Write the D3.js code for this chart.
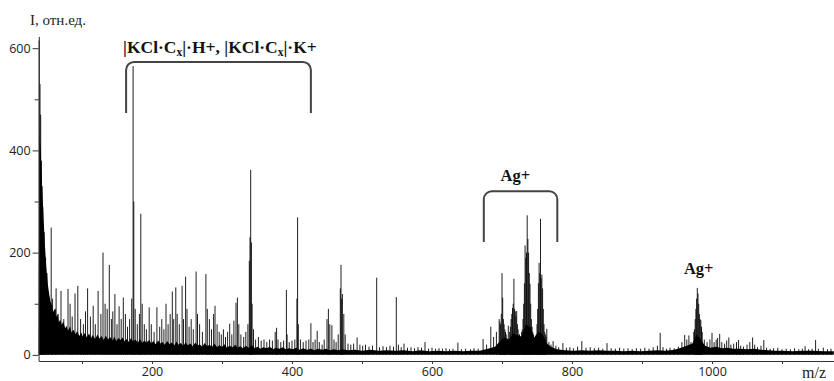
<!DOCTYPE html>
<html>
<head>
<meta charset="utf-8">
<script src="https://cdn.jsdelivr.net/npm/d3@7"></script>
<style>
  body { margin: 0; background: #fff; }
  svg { display: block; }
</style>
</head>
<body>
<div id="chart" style="width:834px;height:381px"></div>
<script>
// dense baseline noise (m/z, intensity)
const envMz = [38, 39, 41, 43, 45, 47, 49, 51, 53, 55, 57, 59, 61, 63, 65, 67, 69, 71, 73, 76, 78, 80, 83, 85, 88, 91, 93, 96, 99, 101, 104, 107, 110, 113, 115, 119, 122, 125, 128, 131, 134, 137, 140, 144, 146, 149, 152, 155, 158, 161, 164, 167, 170, 173, 176, 180, 183, 186, 189, 192, 196, 199, 202, 205, 209, 212, 215, 218, 222, 225, 228, 232, 235, 238, 241, 245, 248, 251, 255, 258, 262, 265, 268, 272, 275, 279, 282, 286, 289, 293, 296, 300, 304, 307, 311, 315, 319, 322, 326, 330, 334, 338, 343, 347, 351, 355, 359, 364, 368, 373, 377, 382, 387, 391, 396, 401, 406, 411, 416, 421, 427, 432, 437, 443, 449, 454, 460, 466, 472, 480, 490, 500, 512, 524, 536, 548, 560, 572, 584, 596, 608, 620, 632, 644, 656, 668, 680, 690, 698, 704, 710, 716, 722, 728, 734, 740, 746, 752, 758, 764, 770, 778, 790, 802, 814, 826, 838, 850, 862, 874, 886, 898, 910, 922, 934, 946, 956, 964, 972, 978, 984, 990, 998, 1006, 1014, 1022, 1030, 1040, 1050, 1060, 1070, 1080, 1090, 1100, 1115, 1130, 1145, 1160, 1174];
const envI = [0, 440, 400, 330, 270, 215, 172, 140, 120, 104, 98, 84, 90, 74, 80, 64, 69, 58, 66, 52, 57, 47, 56, 44, 49, 40, 47, 37, 44, 36, 43, 34, 42, 33, 39, 31, 40, 32, 37, 29, 38, 30, 35, 28, 36, 27, 33, 29, 34, 26, 31, 25, 33, 26, 30, 24, 31, 23, 28, 24, 29, 22, 27, 21, 28, 22, 25, 20, 27, 21, 24, 19, 26, 20, 23, 18, 25, 19, 22, 17, 24, 18, 21, 16, 23, 17, 20, 16, 22, 15, 19, 16, 21, 14, 18, 15, 20, 14, 17, 13, 18, 14, 19, 13, 16, 12, 15, 13, 16, 11, 14, 12, 15, 11, 13, 11, 14, 10, 13, 10, 12, 9, 12, 10, 12, 9, 11, 9, 11, 9, 10, 8, 10, 8, 9, 8, 9, 7, 9, 7, 8, 7, 8, 7, 8, 8, 12, 16, 28, 34, 30, 42, 38, 36, 60, 55, 34, 45, 40, 22, 16, 11, 9, 8, 9, 8, 9, 8, 8, 7, 8, 7, 8, 9, 8, 10, 14, 18, 22, 40, 30, 18, 14, 16, 13, 14, 12, 12, 11, 12, 10, 9, 8, 8, 7, 8, 8, 7, 7];

// individual peaks
const peakMz = [39, 40, 41, 42, 43, 44, 46, 48, 50, 52, 56, 58, 62, 63, 66, 70, 74, 80, 83, 86, 90, 94, 98, 102, 105, 108, 112, 116, 119, 123, 127, 130, 133, 136, 139, 142, 144, 147, 150, 153, 156, 159, 162, 165, 168, 171, 173, 174, 176, 179, 182, 184, 186, 189, 192, 196, 199, 203, 207, 211, 214, 217, 220, 223, 226, 229, 231, 234, 236, 239, 243, 245, 248, 250, 253, 256, 259, 263, 265, 268, 272, 277, 279, 282, 285, 288, 290, 293, 296, 299, 302, 305, 308, 311, 314, 317, 320, 322, 324, 327, 331, 334, 337, 339, 340, 341, 342, 343, 345, 348, 352, 356, 360, 364, 368, 372, 376, 378, 380, 384, 388, 392, 393, 396, 400, 404, 407, 408, 409, 412, 416, 420, 424, 427, 430, 433, 436, 439, 443, 446, 450, 452, 454, 457, 460, 463, 466, 469, 470, 471, 472, 474, 476, 480, 484, 488, 493, 497, 501, 505, 510, 515, 521, 525, 530, 535, 540, 545, 549, 552, 556, 560, 565, 570, 575, 580, 585, 590, 595, 600, 605, 610, 615, 620, 625, 630, 637, 642, 648, 655, 660, 666, 673, 678, 684, 688, 692, 696, 698, 700, 701, 702, 704, 706, 709, 711, 713, 715, 717, 718, 719, 721, 722, 724, 727, 729, 731, 732, 733, 734, 735, 736, 737, 738, 739, 740, 741, 742, 744, 746, 749, 751, 752, 753, 754, 755, 756, 757, 758, 759, 760, 762, 764, 767, 770, 773, 777, 781, 787, 792, 797, 802, 808, 814, 820, 826, 832, 838, 844, 850, 856, 862, 868, 874, 880, 886, 892, 898, 904, 910, 916, 922, 926, 930, 935, 940, 946, 952, 957, 961, 964, 967, 970, 974, 976, 978, 979, 980, 981, 982, 984, 986, 989, 993, 997, 1000, 1003, 1006, 1008, 1011, 1014, 1018, 1021, 1024, 1027, 1031, 1035, 1038, 1041, 1045, 1050, 1054, 1058, 1061, 1065, 1070, 1074, 1078, 1083, 1088, 1094, 1100, 1106, 1112, 1118, 1124, 1129, 1133, 1138, 1143, 1148, 1152, 1159, 1165, 1170,
  697, 699, 703, 705, 712, 714, 716, 720, 723, 725, 728, 730, 743, 745, 748, 750, 761, 763, 975, 977, 983, 985];
const peakI = [622, 530, 470, 380, 330, 290, 240, 190, 160, 120, 249, 110, 90, 130, 80, 125, 70, 129, 100, 75, 120, 135, 70, 60, 85, 130, 75, 96, 60, 125, 80, 200, 100, 90, 176, 70, 85, 119, 60, 95, 70, 112, 80, 55, 70, 110, 565, 300, 90, 60, 80, 276, 100, 60, 50, 93, 60, 45, 93, 55, 70, 50, 100, 60, 80, 124, 70, 132, 80, 60, 135, 70, 153, 90, 55, 70, 50, 163, 80, 60, 45, 158, 90, 70, 50, 80, 96, 60, 45, 40, 50, 35, 45, 61, 40, 67, 102, 112, 60, 40, 35, 45, 60, 184, 230, 362, 220, 100, 50, 30, 35, 28, 30, 25, 30, 28, 45, 53, 30, 25, 28, 127, 40, 25, 28, 30, 110, 269, 60, 30, 25, 28, 30, 62, 25, 30, 47, 25, 20, 30, 70, 90, 60, 58, 30, 25, 40, 130, 176, 110, 119, 80, 40, 22, 20, 22, 34, 20, 18, 20, 16, 18, 151, 15, 17, 15, 18, 16, 113, 20, 15, 22, 14, 15, 13, 15, 14, 25, 12, 14, 12, 13, 12, 13, 11, 12, 24, 11, 12, 11, 13, 12, 31, 20, 55, 35, 45, 70, 60, 160, 112, 70, 50, 40, 57, 45, 70, 92, 149, 90, 85, 86, 60, 40, 35, 50, 100, 140, 214, 190, 200, 273, 227, 200, 160, 139, 100, 70, 45, 30, 40, 90, 140, 180, 160, 266, 150, 157, 130, 90, 60, 40, 51, 25, 20, 27, 18, 15, 23, 14, 15, 13, 16, 27, 14, 15, 13, 14, 12, 23, 13, 12, 14, 12, 13, 11, 13, 12, 14, 12, 15, 18, 43, 15, 12, 14, 13, 16, 25, 39, 30, 38, 25, 45, 70, 110, 131, 120, 100, 80, 68, 45, 30, 25, 30, 43, 25, 30, 33, 41, 25, 22, 28, 34, 20, 22, 25, 29, 18, 16, 20, 25, 34, 20, 15, 18, 29, 14, 12, 13, 14, 11, 12, 11, 13, 11, 12, 17, 11, 12, 29, 12, 14, 11, 12,
  65, 80, 60, 45, 55, 80, 100, 75, 50, 40, 45, 70, 55, 40, 35, 60, 45, 35, 50, 90, 70, 55];

const yTicks = [0, 200, 400, 600];
const yMinorTicks = [100, 300, 500];
const xTicks = [200, 400, 600, 800, 1000];
const xMinorTicks = [100, 300, 500, 700, 900, 1100];

// bracket annotations: [left m/z, right m/z, top I, bottom I]
const brackets = [[163, 427, 573, 473], [674, 779, 320, 221]];
const labelMz = [297, 719, 981];
const labelI = [591, 341, 158];
const labelText = ['kcl', 'Ag+', 'Ag+'];

const width = 834;
const height = 381;

const svg = d3.select('#chart')
  .append('svg')
  .attr('width', width)
  .attr('height', height);

const xScale = d3.scaleLinear([38, 1174], [38.6, 833.8]);
const yScale = d3.scaleLinear([-12, 616], [361, 40]);

// baseline noise mass
const area = d3.area()
  .x((d) => xScale(d[0]))
  .y0(yScale(0))
  .y1((d) => yScale(d[1]))
  .curve(d3.curveLinear);

svg.append('path')
  .datum(envMz.map((m, i) => [m, envI[i]]))
  .attr('fill', '#000')
  .attr('d', area);

svg.append('g')
  .selectAll('line')
  .data(peakMz.map((m, i) => [m, peakI[i]]))
  .join('line')
  .attr('x1', (d) => xScale(d[0]))
  .attr('x2', (d) => xScale(d[0]))
  .attr('y1', yScale(0))
  .attr('y2', (d) => yScale(d[1]))
  .attr('stroke', '#000')
  .attr('stroke-opacity', 0.88)
  .attr('stroke-width', 1);

// axes
const yAxis = svg.append('g')
  .attr('transform', `translate(${xScale(38)},0)`)
  .call(d3.axisLeft(yScale).tickValues(yTicks).tickSize(6).tickPadding(2).tickSizeOuter(0));
svg.append('g')
  .attr('transform', `translate(${xScale(38)},0)`)
  .call(d3.axisLeft(yScale).tickValues(yMinorTicks).tickSize(4).tickFormat(''))
  .call((g) => g.select('.domain').remove());

const xAxis = svg.append('g')
  .attr('transform', `translate(0,${yScale(-12)})`)
  .call(d3.axisBottom(xScale).tickValues(xTicks).tickSize(3).tickPadding(3)
    .tickFormat(d3.format('d')).tickSizeOuter(0));
svg.append('g')
  .attr('transform', `translate(0,${yScale(-12)})`)
  .call(d3.axisBottom(xScale).tickValues(xMinorTicks).tickSize(3).tickFormat(''))
  .call((g) => g.select('.domain').remove());

svg.selectAll('.domain, .tick line').attr('stroke', '#333');
[yAxis, xAxis].forEach((g) => g.selectAll('text')
  .attr('font-family', 'Open Sans, sans-serif')
  .attr('font-size', 12.5)
  .attr('fill', '#222'));

// axis titles
svg.append('text')
  .attr('x', 30)
  .attr('y', 25)
  .attr('font-family', 'Liberation Serif, serif')
  .attr('font-size', 15)
  .attr('fill', '#222')
  .text('I, отн.ед.');

svg.append('text')
  .attr('x', 802)
  .attr('y', 378)
  .attr('font-family', 'Liberation Serif, serif')
  .attr('font-size', 16)
  .attr('fill', '#222')
  .text('m/z');

// brackets
const r = 8;
brackets.forEach(([m0, m1, top, bottom]) => {
  const x0 = xScale(m0);
  const x1 = xScale(m1);
  const yt = yScale(top);
  const yb = yScale(bottom);
  const p = d3.path();
  p.moveTo(x0, yb);
  p.lineTo(x0, yt + r);
  p.arcTo(x0, yt, x0 + r, yt, r);
  p.lineTo(x1 - r, yt);
  p.arcTo(x1, yt, x1, yt + r, r);
  p.lineTo(x1, yb);
  svg.append('path')
    .attr('d', p.toString())
    .attr('fill', 'none')
    .attr('stroke', '#444')
    .attr('stroke-width', 2);
});

// labels
labelText.forEach((t, i) => {
  const text = svg.append('text')
    .attr('x', xScale(labelMz[i]))
    .attr('y', yScale(labelI[i]))
    .attr('text-anchor', 'middle')
    .attr('font-family', 'Liberation Serif, serif')
    .attr('font-weight', 'bold')
    .attr('font-size', 16.5)
    .attr('fill', '#111');
  if (t === 'kcl') {
    text.attr('font-size', 17.5);
    text.append('tspan').text('|KCl·C');
    text.append('tspan').attr('font-size', 11.5).attr('dy', 3).text('x');
    text.append('tspan').attr('dy', -3).text('|·H+, |KCl·C');
    text.append('tspan').attr('font-size', 11.5).attr('dy', 3).text('x');
    text.append('tspan').attr('dy', -3).text('|·K+');
  } else {
    text.text(t);
  }
});
</script>
</body>
</html>
